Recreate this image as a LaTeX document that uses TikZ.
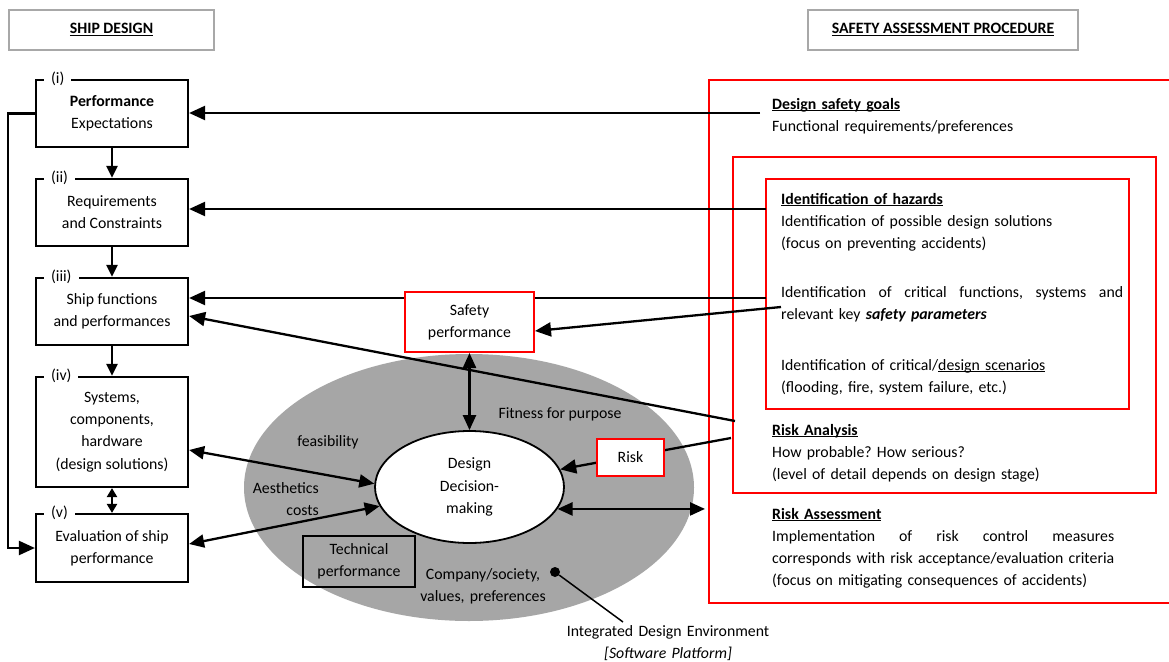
\documentclass[tikz,border=0pt]{standalone}
\usepackage{fontspec}
\setmainfont{Carlito}
\usetikzlibrary{arrows.meta,backgrounds,shapes.geometric}
\definecolor{envgray}{RGB}{166,166,166}
\definecolor{hdrgray}{RGB}{168,168,168}
\frenchspacing
% underline at a fixed depth below the baseline
\newcommand{\ulined}[1]{\leavevmode\setbox0=\hbox{#1}\rlap{\rule[-2.4pt]{\wd0}{1.1pt}}\box0}

\begin{document}
\begin{tikzpicture}[x=1pt,y=-1pt,
  every node/.style={font=\fontsize{15.8}{22.2}\selectfont, inner sep=0pt},
  stage/.style={draw, line width=2.2pt, fill=white, minimum width=152pt, align=center},
  stagetag/.style={fill=white, anchor=west, inner xsep=7pt, inner ysep=1pt},
  header/.style={draw=hdrgray, line width=2pt, minimum height=40pt},
  redbox/.style={draw=red, line width=2pt, fill=white, align=center},
  redframe/.style={draw=red, line width=2pt},
  conn/.style={line width=2.3pt, -{Triangle[length=16pt,width=14pt]}},
  dconn/.style={line width=2.3pt, {Triangle[length=15pt,width=13pt]}-{Triangle[length=15pt,width=13pt]}},
  flow/.style={line width=2.3pt, -{Triangle[length=12pt,width=11pt]}},
  blocktext/.style={anchor=base west, text width=360pt, align=left},
]
\useasboundingbox (0,0) rectangle (1169,661);

% ---------- headers ----------
\node[header, minimum width=205pt] (hship) at (111.5,30) {\textbf{\ulined{SHIP DESIGN}}};
\node[header, minimum width=270pt] (hsafe) at (943,30) {\textbf{\ulined{SAFETY ASSESSMENT PROCEDURE}}};

% ---------- ship design stages ----------
\node[stage, minimum height=67pt] (b1) at (112,113.5) {\textbf{Performance}\\Expectations};
\node[stage, minimum height=67pt] (b2) at (112,212.5) {Requirements\\and Constraints};
\node[stage, minimum height=67pt] (b3) at (112,311.5) {Ship functions\\and performances};
\node[stage, minimum height=110pt] (b4) at (112,432) {Systems,\\components,\\hardware\\(design solutions)};
\node[stage, minimum height=68pt] (b5) at (112,548) {Evaluation of ship\\performance};

\node[stagetag] (t1) at ([xshift=9pt]b1.north west) {(i)};
\node[stagetag] (t2) at ([xshift=9pt]b2.north west) {(ii)};
\node[stagetag] (t3) at ([xshift=9pt]b3.north west) {(iii)};
\node[stagetag] (t4) at ([xshift=9pt]b4.north west) {(iv)};
\node[stagetag] (t5) at ([xshift=9pt]b5.north west) {(v)};

% ---------- design environment ----------
\node[redbox, minimum width=129pt, minimum height=60pt] (sp) at (469.5,322) {Safety\\performance};
\node[draw, ellipse, line width=1.8pt, fill=white, minimum width=189pt, minimum height=112pt, align=center] (ddm) at (469.5,487) {Design\\Decision-\\making};
\node[redbox, minimum width=67pt, minimum height=37pt] (risk) at (630.5,457.5) {Risk};
\node[draw, line width=1.7pt, minimum width=112pt, minimum height=51pt, align=center] (tp) at (359,561.5) {Technical\\performance};

\node[anchor=base] (fit) at (560,418) {Fitness for purpose};
\node[anchor=base] (feas) at (328,446) {feasibility};
\node[anchor=base east, text width=90pt, align=right] (aes) at (319,493) {Aesthetics\\costs};
\node[anchor=base, text width=160pt, align=center] (soc) at (483,579) {Company/society,\\values, preferences};
\node[circle, fill, minimum size=10pt] (dot) at (555,572) {};
\node[anchor=base, text width=240pt, align=center] (ide) at (668,636) {Integrated Design Environment\\\textit{[Software Platform]}};

% ---------- safety assessment procedure ----------
\node[blocktext] (goals) at (772,109) {\textbf{\ulined{Design safety goals}}\\Functional requirements/preferences};
\node[blocktext] (hazards) at (781,204) {\textbf{\ulined{Identification of hazards}}\\Identification of possible design solutions\\(focus on preventing accidents)};
\node[blocktext] (critfun) at (781,297) {\makebox[342pt][l]{Identification\hfill of\hfill critical\hfill functions,\hfill systems\hfill and}\\relevant key \textbf{\textit{safety parameters}}};
\node[blocktext] (scen) at (781,370) {Identification of critical/\ulined{design scenarios}\\(flooding, fire, system failure, etc.)};
\node[blocktext] (ra) at (772,435) {\textbf{\ulined{Risk Analysis}}\\How probable? How serious?\\(level of detail depends on design stage)};
\node[blocktext] (rass) at (772,519) {\textbf{\ulined{Risk Assessment}}\\\makebox[342pt][l]{Implementation\hfill of\hfill risk\hfill control\hfill measures}\\\makebox[342pt][l]{corresponds\hfill with\hfill risk\hfill acceptance/evaluation\hfill criteria}\\(focus on mitigating consequences of accidents)};

% free ends of the connectors
\coordinate (goalsTail) at (760,113);
\coordinate (hazTail) at (766,209);
\coordinate (funTail) at (766,298);
\coordinate (keyTail) at (781,307);
\coordinate (raTailA) at (735,421);
\coordinate (raTailB) at (731,438);
\coordinate (rassHead) at (705,510);
\coordinate (ideTop) at (623,622);

\begin{scope}[on background layer]
  \fill[white] (0,0) rectangle (1169,661);
  \node[ellipse, fill=envgray, minimum width=450pt, minimum height=267pt] (env) at (469,487.5) {};
  % nested procedure frames
  \draw[redframe] (1170,80) -- (709,80) -- (709,603) -- (1170,603);
  \draw[redframe] (733,157) rectangle (1156,493);
  \draw[redframe] (766,179) rectangle (1129,409);

  % design spiral
  \draw[flow] (b1) -- (b2);
  \draw[flow] (b2) -- (b3);
  \draw[flow] (b3) -- (b4);
  \draw[line width=2.3pt, {Triangle[length=9pt,width=10pt]}-{Triangle[length=9pt,width=10pt]}] (b4) -- (b5);
  \draw[conn] (b1.west) -- ++(-27,0) |- (b5.west);

  % feedback from the assessment
  \draw[conn] (goalsTail) -- (goalsTail -| b1.east);
  \draw[conn] (hazTail) -- (hazTail -| b2.east);
  \draw[conn] (funTail) -- (funTail -| b3.east);
  \draw[conn] (keyTail) -- ([yshift=-9pt]sp.east);
  \draw[conn] (raTailA) -- ([yshift=-4.5pt]b3.east);
  \draw[conn] (raTailB) -- (ddm.11);

  % links to the decision making
  \draw[dconn] (sp) -- (ddm);
  \draw[dconn] ([yshift=-18pt]b4.east) -- (ddm.178);
  \draw[dconn] ([yshift=4pt]b5.east) -- (ddm.192);
  \draw[dconn] (ddm.346) -- (ddm.346 -| rassHead);
  \draw[line width=1.5pt] (dot) -- (ideTop);
\end{scope}
\end{tikzpicture}
\end{document}
